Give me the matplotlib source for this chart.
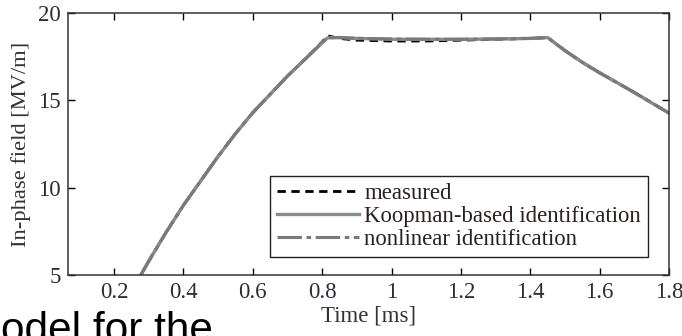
import numpy as np
import matplotlib
matplotlib.use("Agg")
import matplotlib.pyplot as plt

# values (time in ms, field in MV/m)
time_ms = [0.277, 0.30, 0.35, 0.40, 0.45, 0.50, 0.55, 0.60, 0.65, 0.70, 0.75,
           0.80, 0.815, 0.85, 0.90, 1.00, 1.10, 1.20, 1.30, 1.40, 1.45,
           1.50, 1.55, 1.60, 1.65, 1.70, 1.75, 1.80]
measured = [5.0, 5.8, 7.45, 9.0, 10.4, 11.8, 13.1, 14.3, 15.35, 16.4, 17.35,
            18.35, 18.7, 18.55, 18.45, 18.4, 18.4, 18.45, 18.5, 18.55, 18.6,
            17.85, 17.18, 16.58, 16.02, 15.45, 14.86, 14.27]
koopman = [5.0, 5.8, 7.45, 9.0, 10.4, 11.8, 13.1, 14.3, 15.35, 16.4, 17.35,
           18.3, 18.58, 18.6, 18.55, 18.5, 18.5, 18.5, 18.52, 18.55, 18.6,
           17.85, 17.18, 16.58, 16.02, 15.45, 14.86, 14.27]
nonlinear = [5.0, 5.8, 7.45, 9.0, 10.4, 11.8, 13.1, 14.3, 15.35, 16.4, 17.35,
             18.32, 18.6, 18.6, 18.55, 18.52, 18.5, 18.5, 18.52, 18.55, 18.6,
             17.85, 17.18, 16.58, 16.02, 15.45, 14.86, 14.27]

xticks = [0.2, 0.4, 0.6, 0.8, 1, 1.2, 1.4, 1.6, 1.8]
xtick_labels = ["0.2", "0.4", "0.6", "0.8", "1", "1.2", "1.4", "1.6", "1.8"]
yticks = [5, 10, 15, 20]

plt.rcParams['font.family'] = ['Liberation Serif', 'DejaVu Serif']

fig = plt.figure(figsize=(6.82, 3.36), dpi=100)
ax = fig.add_axes([0.0997, 0.1815, 0.8813, 0.7795])

ax.plot(time_ms, measured, color='black', lw=2.0, ls=(0, (3, 2)), label='measured')
ax.plot(time_ms, koopman, color='#8a8a8a', lw=2.4, label='Koopman-based identification')
ax.plot(time_ms, nonlinear, color='#7a7a7a', lw=2.2, ls=(0, (8, 1.5, 1.5, 1.5)),
        label='nonlinear identification')

ax.set_xlim(0.067, 1.8)
ax.set_ylim(5, 20)
ax.set_xticks(xticks)
ax.set_xticklabels(xtick_labels)
ax.set_yticks(yticks)
ax.tick_params(direction='in', top=True, right=True, length=5, width=1,
               labelsize=16.5, pad=5, labelcolor='#2b2b3a')
for s in ax.spines.values():
    s.set_linewidth(1.1)
    s.set_color('#333333')

ax.set_xlabel('Time [ms]', fontsize=16.5, color='#333333', labelpad=2)
ax.set_ylabel('In-phase field [MV/m]', fontsize=16.2, color='#333333', labelpad=5)

leg = ax.legend(loc='lower right', bbox_to_anchor=(0.965, 0.069),
                borderaxespad=0, fontsize=16.4, handlelength=3.6,
                handletextpad=0.25, labelspacing=0.1, fancybox=False,
                framealpha=1, borderpad=0.3)
leg.get_frame().set_edgecolor('#222222')
leg.get_frame().set_linewidth(1.0)
for t in leg.get_texts():
    t.set_color('#2b2020')

# clipped caption text from the surrounding page
fig.text(0.002, -0.018, 'odel for the', fontsize=30.5, family='Liberation Sans',
         ha='left', va='baseline', color='black')

fig.savefig('out.png', dpi=100)
